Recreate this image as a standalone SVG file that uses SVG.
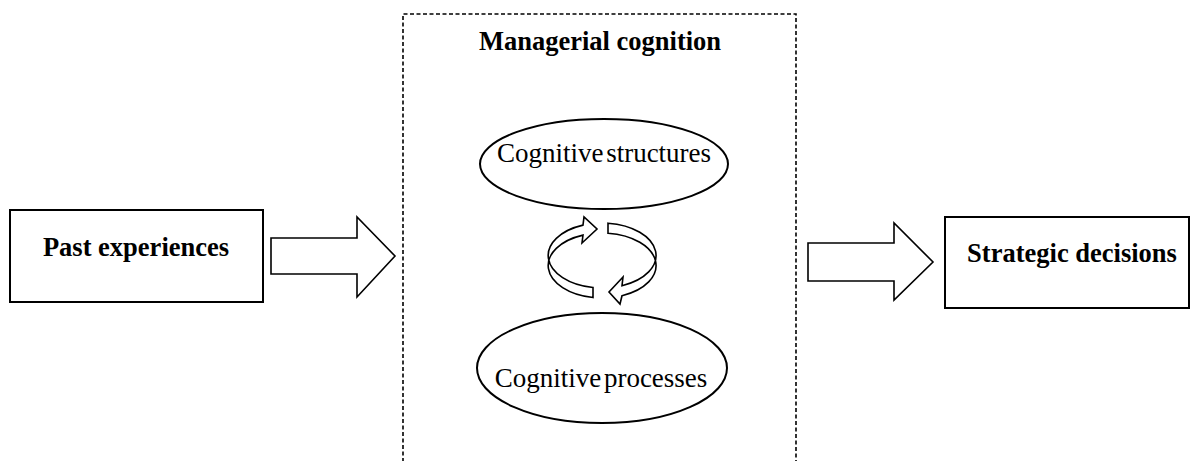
<svg xmlns="http://www.w3.org/2000/svg" width="1192" height="461" viewBox="0 0 1192 461">
  <style>
    .box { fill: #ffffff; stroke: #000000; stroke-width: 2; }
    .frame { fill: none; stroke: #000000; stroke-width: 1.6; stroke-dasharray: 4 2.5; }
    .oval { fill: #ffffff; stroke: #000000; stroke-width: 2; }
    .bigarrow { fill: #ffffff; stroke: #000000; stroke-width: 1.6; stroke-linejoin: miter; }
    .cycle { fill: #ffffff; stroke: #000000; stroke-width: 1.6; stroke-linejoin: miter; }
    .title { font-family: "Liberation Serif", "Times New Roman", serif; font-weight: bold; font-size: 26.5px; fill: #000000; text-anchor: middle; }
    .label { font-family: "Liberation Serif", "Times New Roman", serif; font-size: 27px; fill: #000000; text-anchor: middle; word-spacing: -4px; }
  </style>

  <rect width="1192" height="461" fill="#ffffff"/>

  <!-- Dashed container: open at the bottom -->
  <g id="managerial-cognition">
    <path class="frame" d="M403,462 V14 H796 V462"/>
    <text class="title" x="600" y="50">Managerial cognition</text>
  </g>

  <g id="past-experiences">
    <rect class="box" x="10" y="210" width="253" height="92"/>
    <text class="title" x="136" y="256">Past experiences</text>
  </g>

  <g id="strategic-decisions">
    <rect class="box" x="945" y="217" width="244" height="91"/>
    <text class="title" x="1072" y="262">Strategic decisions</text>
  </g>

  <g id="cognitive-structures">
    <ellipse class="oval" cx="604" cy="164" rx="124" ry="45"/>
    <text class="label" x="604" y="162">Cognitive structures</text>
  </g>

  <g id="cognitive-processes">
    <ellipse class="oval" cx="602" cy="368" rx="125" ry="55"/>
    <text class="label" x="601" y="387">Cognitive processes</text>
  </g>

  <g id="connectors">
    <!-- Block arrows into and out of the container -->
    <path class="bigarrow" d="M271,238 H357 V217 L395,256 L357,297 V274 H271 Z"/>
    <path class="bigarrow" d="M808,243 H894 V223 L933,262 L894,300 V281 H808 Z"/>

    <!-- Twisted circular ribbon arrows between structures and processes -->
    <path class="cycle" d="M593,287.5 A54 32.5 0 0 1 583,225.1 L584,217 L597,229 L582,243 L583,235.1 A54 32.5 0 0 0 593,297.5 Z"/>
    <path class="cycle" d="M608,223.2 A54 32.5 0 0 1 622,285.7 L623,277 L609,292 L620,304 L622,295.7 A54 32.5 0 0 0 608,233.2 Z"/>
  </g>
</svg>
